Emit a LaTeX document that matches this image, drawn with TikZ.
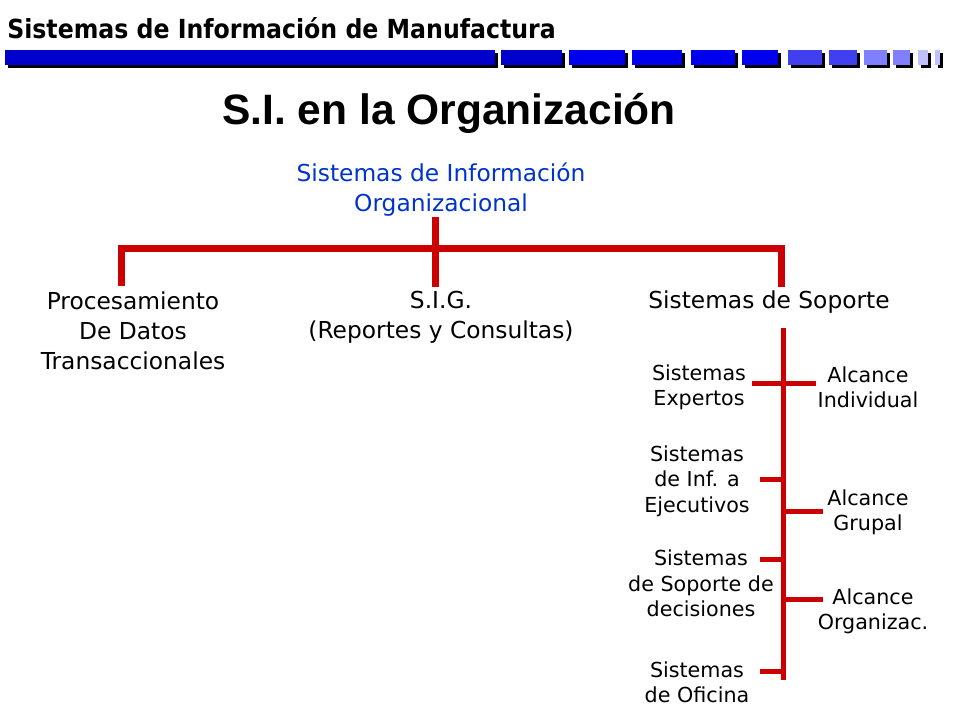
\documentclass[tikz,border=0pt]{standalone}
\usepackage{fontspec}
\setmainfont{DejaVu Sans}
\newfontfamily\headfont{DejaVu Sans Condensed}
\newfontfamily\titlefont{Liberation Sans}
\usepackage{tikz}
\usetikzlibrary{positioning}
\definecolor{treered}{HTML}{CC0000}
\definecolor{rootblue}{HTML}{0033CC}
\definecolor{bardark}{HTML}{0000CC}
\definecolor{barmid}{HTML}{0000EE}
\definecolor{barlight}{HTML}{4040F0}
\definecolor{barpale}{HTML}{8080FF}
\definecolor{barfaint}{HTML}{C0C0FF}
\tikzset{
    rootnode/.style={
        text=rootblue, % blue root text
        align=center,
        inner sep=0,
        font=\fontsize{17.5}{22.5}\selectfont
    },
    levelnode/.style={
        align=center,
        inner sep=0,
        font=\fontsize{17.5}{22.5}\selectfont
    },
    leafnode/.style={
        align=center,
        inner sep=0,
        font=\fontsize{15.5}{19}\selectfont
    },
    treeline/.style={
        draw=treered,
        line width=5.25pt % thick red bracket
    },
    leafline/.style={
        draw=treered,
        line width=4.1pt
    }
}

\begin{document}
\begin{tikzpicture}[x=0.75pt, y=-0.75pt]
    \useasboundingbox (0,0) rectangle (960,720);
    % header
    \node[anchor=base west, inner sep=0, font=\headfont\bfseries\fontsize{19.7}{24}\selectfont]
        (head) at (7,39) {Sistemas de Información de Manufactura};
    \foreach \a/\b/\c in {5/495/bardark, 501/562/bardark, 569/625/barmid, 632/682/barmid,
        691/735/barmid, 742/778/barmid, 788/822/barlight, 829/857/barlight,
        864/887/barpale, 893/910/barpale, 918/928/barfaint, 935/940/barfaint} {
        \fill[black] (\a+3,53) rectangle (\b+3,68);
        \fill[\c] (\a,50) rectangle (\b,65);
    }
    \node[anchor=base, inner sep=0, font=\titlefont\bfseries\fontsize{31.9}{36}\selectfont]
        (title) at (449,125) {S.I. en la Organización};

    % main tree
    \node[rootnode] (root) at (441,190) {Sistemas de Información\\Organizacional};
    \node[levelnode] (proc) at (133,331) {Procesamiento\\De Datos\\Transaccionales};
    \node[levelnode] (sig) at (441,317) {S.I.G.\\(Reportes y Consultas)};
    \node[levelnode] (sop) at (769,302) {Sistemas de Soporte};

    \coordinate (root-foot) at (435.5,217);
    \coordinate (sig-top) at (435.5,287);
    \coordinate (proc-top) at (121,286);
    \coordinate (sop-top) at (781.5,287);
    \coordinate (bar) at (435.5,248.5);
    \draw[treeline] (root-foot) -- (sig-top);
    \draw[treeline] (proc-top) |- (bar) -| (sop-top);

    % support systems
    \node[leafnode] (expertos) at (699,387.5) {Sistemas\\Expertos};
    \node[leafnode] (ejecutivos) at (697,481) {Sistemas\\de Inf. a\\Ejecutivos};
    \node[leafnode] (decisiones) at (701,583.5) {Sistemas\\de Soporte de\\decisiones};
    \node[leafnode] (oficina) at (697,682) {Sistemas\\de Oficina};
    \node[leafnode] (individual) at (868,387.5) {Alcance\\Individual};
    \node[leafnode] (grupal) at (868,512.5) {Alcance\\Grupal};
    \node[leafnode] (organizac) at (873,611.5) {Alcance\\Organizac.};

    \coordinate (spine-top) at (783.5,328);
    \coordinate (spine-foot) at (783.5,680);
    \coordinate (expertos-end) at (752,383.5);
    \coordinate (individual-end) at (816,383.5);
    \coordinate (ejecutivos-end) at (760,479.5);
    \coordinate (grupal-end) at (823,511.5);
    \coordinate (decisiones-end) at (760,559.5);
    \coordinate (organizac-end) at (823,599.5);
    \coordinate (oficina-end) at (760,671.5);
    \draw[leafline] (spine-top) -- (spine-foot);
    \draw[leafline] (expertos-end) -- (individual-end);
    \draw[leafline] (ejecutivos-end) -- (spine-top |- ejecutivos-end);
    \draw[leafline] (spine-top |- grupal-end) -- (grupal-end);
    \draw[leafline] (decisiones-end) -- (spine-top |- decisiones-end);
    \draw[leafline] (spine-top |- organizac-end) -- (organizac-end);
    \draw[leafline] (oficina-end) -- (spine-top |- oficina-end);
\end{tikzpicture}
\end{document}
